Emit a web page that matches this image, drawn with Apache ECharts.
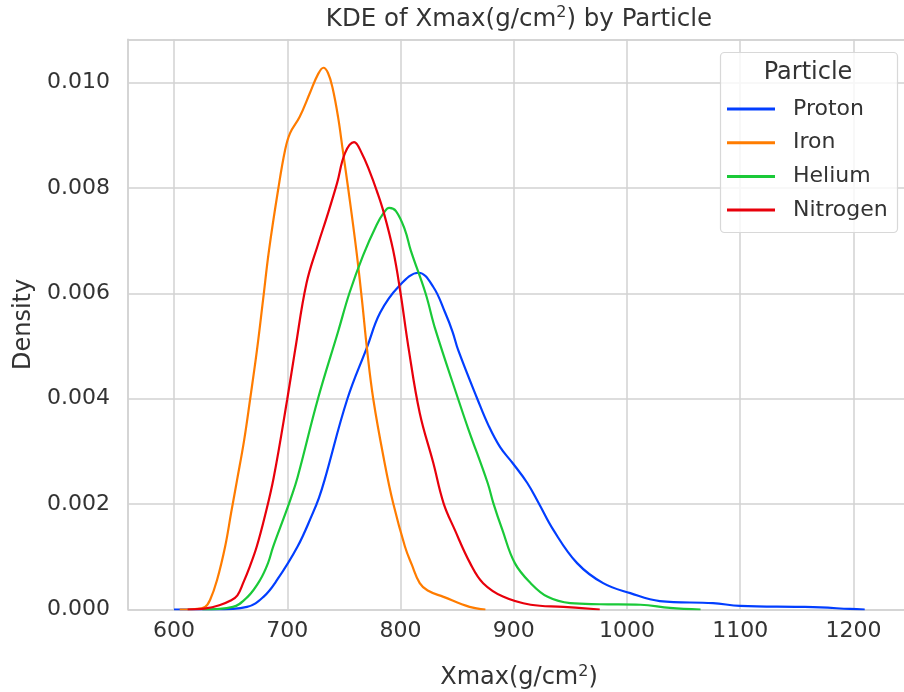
<!DOCTYPE html>
<html>
<head>
<meta charset="utf-8">
<script src="https://cdn.jsdelivr.net/npm/echarts@6/dist/echarts.min.js"></script>
<style>html,body{margin:0;padding:0;background:#fff;}#c{width:904px;height:692px;}</style>
</head>
<body>
<div id="c"></div>
<script>
// ---- data (x in g/cm^2, density in units of 1e-3) ----
const seriesNames = ['Proton', 'Iron', 'Helium', 'Nitrogen'];
const xTicks = [600, 700, 800, 900, 1000, 1100, 1200];
const yTicks = [0, 0.002, 0.004, 0.006, 0.008, 0.010];

const protonX = [600, 636, 664.5, 679, 691, 709, 722, 728, 733, 753, 770.5, 782, 798, 816, 829, 839.5, 846, 851, 868, 878, 888, 899, 912, 922, 935, 956, 979, 1003, 1029, 1076, 1100, 1153, 1171, 1197, 1210];
const protonY = [0, 0, 0.05, 0.24, 0.56, 1.19, 1.80, 2.12, 2.46, 3.99, 4.98, 5.63, 6.12, 6.39, 6.12, 5.63, 5.27, 4.92, 3.99, 3.48, 3.08, 2.78, 2.40, 2.02, 1.51, 0.88, 0.50, 0.31, 0.16, 0.12, 0.07, 0.05, 0.04, 0.01, 0];

const ironX = [605, 618.6, 627.4, 631.8, 638, 645.1, 650.4, 655.7, 661.9, 667.2, 673.3, 678.6, 683.9, 691.9, 698.1, 702.5, 711, 720, 727, 732, 736, 740, 745, 749, 754, 761, 766, 770.5, 776, 786, 793.5, 804, 810, 817, 824, 838, 861, 875];
const ironY = [0, 0.01, 0.05, 0.18, 0.56, 1.19, 1.83, 2.46, 3.21, 3.99, 4.93, 5.87, 6.82, 7.96, 8.72, 9.04, 9.35, 9.80, 10.15, 10.28, 10.18, 9.90, 9.33, 8.72, 7.96, 6.82, 5.87, 4.93, 3.99, 2.78, 2.02, 1.19, 0.85, 0.50, 0.36, 0.24, 0.05, 0];

const heliumX = [625, 652, 665, 676, 683, 687.5, 698, 703, 709, 727, 745, 755, 767, 779, 785, 790, 796, 804, 809, 822, 831, 851, 860, 877, 882, 890, 901, 915, 930, 950, 976, 1012, 1038, 1065];
const heliumY = [0, 0.05, 0.24, 0.56, 0.88, 1.19, 1.80, 2.10, 2.50, 3.99, 5.28, 6.01, 6.72, 7.30, 7.52, 7.62, 7.56, 7.20, 6.82, 6.01, 5.30, 3.99, 3.42, 2.40, 2.02, 1.51, 0.88, 0.50, 0.24, 0.12, 0.10, 0.09, 0.03, 0];

const nitrogenX = [612, 628, 640, 650, 656, 661, 667, 673, 680, 688, 700, 707, 717, 727.5, 735, 744, 751, 759, 766, 773, 779, 785, 793.5, 800, 807, 817, 829, 838, 848, 861.5, 873, 891, 915, 944, 976];
const nitrogenY = [0, 0.02, 0.08, 0.17, 0.27, 0.5, 0.82, 1.19, 1.75, 2.5, 3.99, 4.93, 6.19, 6.95, 7.45, 8.09, 8.66, 8.87, 8.65, 8.30, 7.95, 7.55, 6.82, 6.01, 4.98, 3.73, 2.78, 2.02, 1.51, 0.88, 0.50, 0.24, 0.09, 0.05, 0];

const colors = ['#023eff', '#ff7c00', '#1ac938', '#e8000b'];
// ---------------------------------------------------------------------------

const FONT = 'DejaVu Sans';
const TXT = '#333333';
const GRIDC = '#d2d2d2';
const XMIN = 559.35, XMAX = 1250;

function pairs(xs, ys) { return xs.map((x, i) => [x, ys[i] / 1000]); }
const allData = [pairs(protonX, protonY), pairs(ironX, ironY), pairs(heliumX, heliumY), pairs(nitrogenX, nitrogenY)];

const chart = echarts.init(document.getElementById('c'), null, {renderer: 'canvas'});
const option = {
  animation: false,
  backgroundColor: '#ffffff',
  grid: {left: 128, top: 39.3, width: 782, bottom: 82.5, outerBoundsMode: 'none', containLabel: false, show: false},
  xAxis: [{
    type: 'value', min: XMIN, max: XMAX, splitNumber: 7, minInterval: 100, maxInterval: 100,
    axisLine: {show: true, lineStyle: {color: GRIDC, width: 1.5}},
    axisTick: {show: false},
    axisLabel: {showMinLabel: false, showMaxLabel: false, margin: 11, fontSize: 22, color: TXT, fontFamily: FONT,
      formatter: v => xTicks.indexOf(Math.round(v)) >= 0 ? String(Math.round(v)) : ''},
    splitLine: {show: true, lineStyle: {color: GRIDC, width: 1.5}},
    name: '{a|Xmax(g/cm}{s|2}{a|)}', nameLocation: 'middle', nameGap: 54,
    nameTextStyle: {rich: {
      a: {fontSize: 24, color: TXT, fontFamily: FONT, lineHeight: 28},
      s: {fontSize: 16, color: TXT, fontFamily: FONT, lineHeight: 16, verticalAlign: 'top'}
    }}
  }, {
    type: 'value', position: 'top', min: XMIN, max: XMAX,
    axisLine: {show: true, lineStyle: {color: GRIDC, width: 1.5}},
    axisTick: {show: false}, axisLabel: {show: false}, splitLine: {show: false}
  }],
  yAxis: {
    type: 'value', min: 0, max: 0.01082, interval: 0.002,
    axisLine: {show: true, lineStyle: {color: GRIDC, width: 1.5}},
    axisTick: {show: false},
    axisLabel: {showMaxLabel: false, margin: 18, fontSize: 22, color: TXT, fontFamily: FONT,
      formatter: v => yTicks.some(t => Math.abs(t - v) < 1e-9) ? v.toFixed(3) : ''},
    splitLine: {show: true, lineStyle: {color: GRIDC, width: 1.5}},
    name: 'Density', nameLocation: 'middle', nameGap: 90,
    nameTextStyle: {fontSize: 24, color: TXT, fontFamily: FONT}
  },
  legend: {
    orient: 'vertical', left: 727, top: 98, padding: 0,
    itemWidth: 48, itemHeight: 3, itemGap: 11.7, icon: 'rect',
    data: seriesNames,
    textStyle: {fontSize: 22, lineHeight: 22, color: TXT, fontFamily: FONT, padding: [0, 0, 0, 13]}
  },
  graphic: [
    {type: 'text', x: 519, y: 20, z: 10,
      style: {text: '{a|KDE of Xmax(g/cm}{s|2}{a|) by Particle}', align: 'center', verticalAlign: 'middle',
        rich: {
          a: {fontSize: 24.5, fill: TXT, fontFamily: FONT, lineHeight: 30},
          s: {fontSize: 16, fill: TXT, fontFamily: FONT, lineHeight: 16, verticalAlign: 'top'}
        }}},
    {type: 'rect', z: 3, shape: {x: 720.5, y: 52.5, width: 177, height: 180, r: 4},
      style: {fill: 'rgba(255,255,255,0.8)', stroke: '#d8d8d8', lineWidth: 1.2}},
    {type: 'text', x: 808, y: 73, z: 10,
      style: {text: 'Particle', fontSize: 24, fill: TXT, fontFamily: FONT, align: 'center', verticalAlign: 'middle'}}
  ],
  series: seriesNames.map((n, i) => ({
    name: n, type: 'line', xAxisIndex: 0, data: allData[i], showSymbol: false, symbol: 'none',
    smooth: 0.4, clip: true,
    lineStyle: {color: colors[i], width: 2.2}, itemStyle: {color: colors[i]}
  }))
};
chart.setOption(option);
</script>
</body>
</html>
